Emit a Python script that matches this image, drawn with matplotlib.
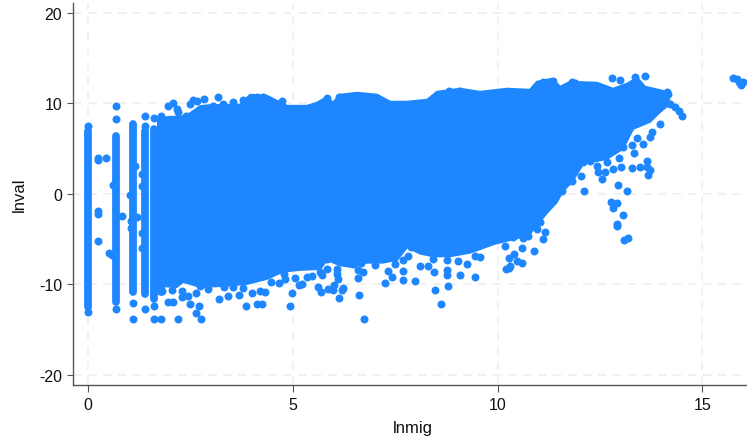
import numpy as np
import matplotlib
matplotlib.use('Agg')
import matplotlib.pyplot as plt

plt.rcParams['font.family'] = ['Liberation Sans', 'DejaVu Sans']

# outline of the solid cloud of points
upper_x = [1.71, 2.00, 2.25, 2.49, 2.74, 2.98, 3.71, 3.96, 4.37, 4.86, 5.35, 5.59, 5.84, 5.98, 6.15, 6.57, 6.84, 7.06,
           7.38, 7.79, 8.28, 8.52, 9.08, 9.57, 10.23, 10.79, 10.96, 11.33, 11.53, 11.77, 12.43, 12.82, 13.16, 13.41,
           13.60, 14.14, 14.21, 13.97, 13.72, 13.31]
upper_y = [8.30, 8.52, 8.50, 8.90, 9.70, 9.80, 9.85, 10.95, 10.84, 9.73, 9.73, 10.07, 10.73, 10.07, 10.95, 11.17, 11.06,
           10.95, 10.18, 10.18, 10.40, 11.28, 11.62, 11.28, 11.62, 11.50, 12.39, 12.72, 11.84, 12.39, 12.28, 11.62,
           12.17, 12.83, 11.84, 11.28, 9.96, 9.07, 7.96, 7.19]
lower_x = [13.06, 12.67, 12.09, 11.82, 11.60, 11.45, 11.23, 11.04, 10.79, 10.43, 9.94, 9.33, 8.84, 8.42, 8.11, 7.79,
           7.55, 7.20, 6.81, 6.47, 6.15, 5.84, 5.67, 5.18, 4.76, 4.37, 3.88, 3.30, 2.74, 2.32, 2.17, 1.71]
lower_y = [4.98, 3.87, 3.32, 1.33, 0.33, -0.88, -1.99, -2.99, -4.42, -4.98, -5.50, -6.50, -6.90, -6.90, -6.60, -5.90,
           -7.30, -7.60, -7.60, -8.10, -7.90, -7.30, -8.30, -8.40, -8.60, -9.40, -9.96, -10.18, -10.29, -9.73, -10.29,
           -10.18]

# stacks of points at the low integer counts
col_x = [0, 0.693, 1.099, 1.386, 1.609, 1.792]
col_lo = [-12.5, -12.0, -10.9, -11.1, -11.6, -10.8]
col_hi = [6.9, 6.45, 7.7, 7.0, 7.2, 8.0]

# single points
top_x = [1.79, 1.95, 2.07, 2.17, 2.20, 2.39, 2.49, 2.56, 2.65, 2.83, 3.18, 3.05, 3.30, 3.54, 3.78, 4.12, 4.27, 4.73,
         5.84, 6.13, 6.54, 6.86, 7.05, 8.82, 9.08, 11.11, 11.35, 11.81, 11.89, 12.79, 12.99, 13.36, 13.60, 13.67, 14.13]
top_y = [8.66, 9.66, 10.07, 9.40, 9.07, 8.60, 9.96, 10.40, 10.32, 10.51, 10.76, 9.73, 9.96, 10.18, 10.43, 10.70, 10.76,
         10.32, 10.59, 10.73, 10.73, 10.76, 10.59, 11.36, 11.36, 12.36, 12.47, 12.36, 12.28, 12.83, 12.64, 12.91, 13.02,
         11.36, 11.25]

left_x = [0, 0, 0.693, 0.693, 0.693, 1.099, 1.099, 1.386, 1.386, 1.386, 1.609, 1.609, 1.609, 1.792,
          0.25, 0.25, 0.447, 0.25, 0.25, 0.25, 0.513, 0.59, 0.62, 0.84, 1.03, 1.05, 1.05, 1.19, 1.15, 1.31, 1.31, 1.33,
          1.33]
left_y = [7.55, -13.1, 9.73, 8.3, -12.7, -12.1, -13.8, 8.66, 7.55, -12.7, 8.4, -12.4, -13.8, -13.8,
          3.95, 3.7, 3.98, -1.95, -2.2, -5.24, -6.5, -6.8, 1.03, -2.47, -0.18, -2.95, -3.8, -2.55, 3.1, -4.3, -6.0, 0.92,
          2.2]

low_x = [1.95, 2.07, 2.20, 2.48, 2.71, 2.64, 2.77, 2.30, 2.30, 2.45, 2.63, 3.21, 3.43, 3.69, 3.87, 4.13, 4.25, 4.93,
         4.97, 4.00, 4.20, 4.31, 2.94, 3.32, 3.55, 3.79, 4.46, 4.67, 4.79, 4.81, 5.05, 5.14, 1.80, 2.04, 2.74,
         5.22, 5.34, 5.48, 5.67, 5.71, 5.62, 5.69, 5.87, 5.97, 6.01, 6.23, 6.21, 6.14, 6.11, 6.07, 6.09, 6.61, 6.59,
         6.72, 6.60, 6.66, 6.75, 7.00, 7.24, 7.32, 7.43, 7.68, 7.68, 7.99, 8.11, 8.45, 8.47, 8.61, 8.76, 8.76, 8.80,
         8.77, 8.31, 8.43, 7.81, 7.69, 7.50, 7.50, 7.88, 5.83, 5.83, 6.48,
         9.45, 9.08, 9.57, 9.45, 9.25, 9.04, 10.28, 10.20]
low_y = [-11.98, -11.98, -13.83, -12.20, -12.42, -13.16, -13.83, -10.70, -11.43, -11.25, -10.95, -11.61, -11.25, -11.17,
         -12.42, -12.20, -12.20, -12.42, -10.95, -10.95, -10.70, -10.87, -10.51, -10.32, -10.32, -10.40, -9.77, -9.88,
         -8.85, -9.40, -9.33, -10.03, -10.70, -10.59, -10.14,
         -9.96, -9.22, -9.10, -8.66, -8.96, -10.32, -10.81, -10.51, -10.59, -10.03, -10.40, -10.62, -11.50, -9.40, -8.85,
         -8.30, -11.17, -9.33, -8.66, -8.41, -7.63, -13.83, -7.82, -9.88, -8.48, -9.22, -9.51, -8.55, -9.59, -8.0, -8.66,
         -10.59, -12.20, -8.37, -8.96, -10.14, -7.30, -7.93, -7.19, -6.82, -7.27, -7.74, -6.82, -5.90, -7.19, -8.30, -7.74,
         -9.2, -8.96, -6.97, -6.86, -7.74, -7.41, -8.19, -8.30]

right_x = [14.16, 14.21, 14.33, 14.42, 14.51, 13.97, 13.77, 13.72, 13.56, 13.41, 13.33, 12.97, 13.02, 12.81, 13.28, 13.48,
           13.64, 13.64, 13.72, 13.67, 12.56, 12.45, 12.63, 12.04, 11.81, 12.94, 13.17, 12.10, 12.76, 12.91, 12.83, 13.06,
           12.91, 12.91, 13.18, 13.09, 15.76, 15.84, 15.90, 16.00, 15.94,
           11.36, 11.28, 11.10, 11.57, 11.44, 10.92, 11.04, 10.97, 11.16, 11.12, 10.75, 10.63, 10.37, 10.14, 10.59, 10.90,
           10.17, 10.39, 10.29, 10.47, 10.59, 10.31,
           12.42, 12.67, 12.83, 13.07, 13.28, 12.50, 12.26, 12.09, 11.73, 11.69, 11.57, 11.28]
right_y = [11.06, 9.96, 9.62, 9.21, 8.66, 7.67, 6.82, 6.27, 5.53, 6.16, 4.50, 3.95, 2.95, 2.77, 2.88, 2.95,
           3.68, 2.95, 2.69, 2.10, 1.66, 2.40, 2.47, 2.02, 1.47, 1.03, 0.30, 0.30, -0.92, -1.00, -1.58, -2.32,
           -3.32, -3.54, -4.87, -5.12, 12.83, 12.72, 12.36, 12.36, 12.06,
           -0.74, -1.11, -0.33, 0.37, 0.77, -3.32, -3.13, -3.87, -4.24, -4.98, -4.68, -4.87, -4.72, -4.06, -5.97, -6.34,
           -5.79, -6.64, -7.08, -7.38, -7.63, -8.0,
           3.13, 3.50, 4.98, 5.20, 5.42, 4.65, 3.68, 3.54, 1.66, 2.21, 2.43, 0.77]

blue = '#1E87FF'

fig = plt.figure(figsize=(7.47, 4.39), dpi=100)
ax = fig.add_axes([73 / 747, (439 - 385.7) / 439, (747 - 73) / 747, (385.7 - 4) / 439])

ax.grid(True, color='#efefef', linestyle=(0, (5, 4)), linewidth=1.2)
ax.set_axisbelow(True)

ax.fill(upper_x + lower_x, upper_y + lower_y, facecolor=blue, edgecolor=blue, linewidth=1.5, joinstyle='round', zorder=2)
for x, lo, hi in zip(col_x, col_lo, col_hi):
    ax.plot([x, x], [lo, hi], color=blue, linewidth=5.6, solid_capstyle='round', zorder=2)

dots_x = np.array(top_x + left_x + low_x + right_x)
dots_y = np.array(top_y + left_y + low_y + right_y)
ax.scatter(dots_x, dots_y, s=33, color=blue, linewidths=0, zorder=3)

ax.set_xlim(-0.366, 16.09)
ax.set_ylim(-21.1, 21.1)
ax.set_xticks([0, 5, 10, 15])
ax.set_yticks([-20, -10, 0, 10, 20])
ax.set_xticklabels(['0', '5', '10', '15'])
ax.set_yticklabels(['-20', '-10', '0', '10', '20'])
ax.tick_params(axis='x', length=5, width=0.8, color='#555555', labelsize=11.5, pad=3.5, labelcolor='#111111')
ax.tick_params(axis='y', length=4.3, width=0.8, color='#555555', labelsize=11.5, pad=3.5, labelcolor='#111111')

for side in ['top', 'right']:
    ax.spines[side].set_visible(False)
for side in ['left', 'bottom']:
    ax.spines[side].set_color('#555555')
    ax.spines[side].set_linewidth(1.0)

ax.set_xlabel('lnmig', fontsize=12, color='#111111', labelpad=6, x=0.504)
ax.set_ylabel('lnval', fontsize=12, color='#111111', labelpad=9)

fig.savefig('out.png', dpi=100)
